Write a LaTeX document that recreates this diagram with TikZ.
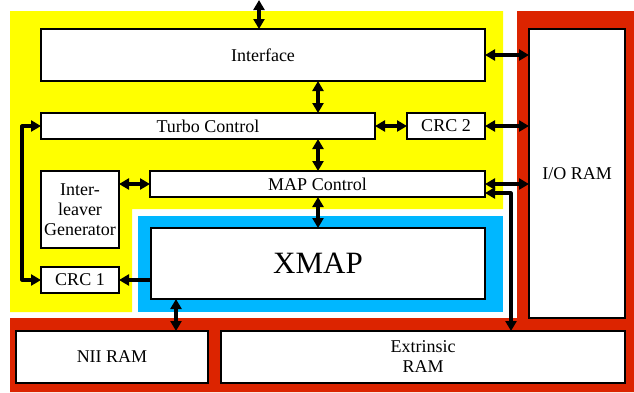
\documentclass[tikz,border=0pt]{standalone}
\usepackage{fontspec}
\setmainfont{Liberation Serif}
\usetikzlibrary{arrows.meta}
\definecolor{yel}{RGB}{255,255,0}
\definecolor{blu}{RGB}{0,183,255}
\definecolor{rd}{RGB}{220,36,0}
\begin{document}
\begin{tikzpicture}[x=1pt,y=-1pt,
 box/.style={draw, line width=1.8pt, fill=white, inner sep=0pt, outer sep=0pt, font=\fontsize{18}{20}\selectfont, align=center},
 dbl/.style={line width=3.2pt, {Triangle[length=10pt,width=11pt]}-{Triangle[length=10pt,width=11pt]}},
 sgl/.style={line width=3.2pt, -{Triangle[length=10pt,width=11pt]}}]
\useasboundingbox (0,0) rectangle (634,392);
\fill[yel] (10,11) -- (503,11) -- (503,209) -- (132,209) -- (132,312) -- (10,312) -- cycle;
\fill[blu] (138,216) rectangle (503,312);
\fill[rd] (517,11) -- (634,11) -- (634,392) -- (10,392) -- (10,318) -- (517,318) -- cycle;
\node[box, minimum width=444pt, minimum height=52pt] (iface) at (263,55) {Interface};
\node[box, minimum width=334pt, minimum height=26pt] (turbo) at (208,126) {Turbo Control};
\node[box, minimum width=78pt, minimum height=26pt] (crc2) at (446,126) {CRC 2};
\node[box, minimum width=78pt, minimum height=77pt] (ilv) at (80,209.5) {Inter-\\leaver\\Generator};
\node[box, minimum width=335pt, minimum height=26pt] (map) at (317.5,184) {MAP Control};
\node[box, minimum width=78pt, minimum height=26pt] (crc1) at (80,280) {CRC 1};
\node[box, minimum width=334pt, minimum height=71pt, font=\fontsize{31}{34}\selectfont] (xmap) at (318,263.5) {XMAP};
\node[box, minimum width=192pt, minimum height=52pt] (nii) at (112,357) {NII RAM};
\node[box, minimum width=404pt, minimum height=52pt] (ext) at (423,357) {Extrinsic\\RAM};
\node[box, minimum width=96pt, minimum height=289pt] (io) at (577,173.5) {\raisebox{-3pt}{I/O RAM}};
\coordinate (top) at (259,0);
\coordinate (cx) at (318,0);
\coordinate (lx) at (22,0);
\coordinate (nx) at (176,0);
\coordinate (ex) at (511,193);
\draw[dbl] (top) -- (iface.north -| top);
\draw[dbl] (iface.south -| cx) -- (turbo.north -| cx);
\draw[dbl] (turbo.south -| cx) -- (map.north -| cx);
\draw[dbl] (map.south -| cx) -- (xmap.north -| cx);
\draw[dbl] (turbo.east) -- (crc2.west);
\draw[dbl] (iface.east) -- (iface.east -| io.west);
\draw[dbl] (crc2.east) -- (crc2.east -| io.west);
\draw[dbl] (map.east) -- (map.east -| io.west);
\draw[dbl] (ilv.east |- map.west) -- (map.west);
\draw[sgl] (xmap.west |- crc1.east) -- (crc1.east);
\draw[dbl, line join=round] (crc1.west) -- (crc1.west -| lx) -- (turbo.west -| lx) -- (turbo.west);
\draw[dbl] (xmap.south -| nx) -- (nii.north -| nx);
\draw[dbl, line join=round] (map.east |- ex) -- (ex) -- (ext.north -| ex);
\end{tikzpicture}
\end{document}
